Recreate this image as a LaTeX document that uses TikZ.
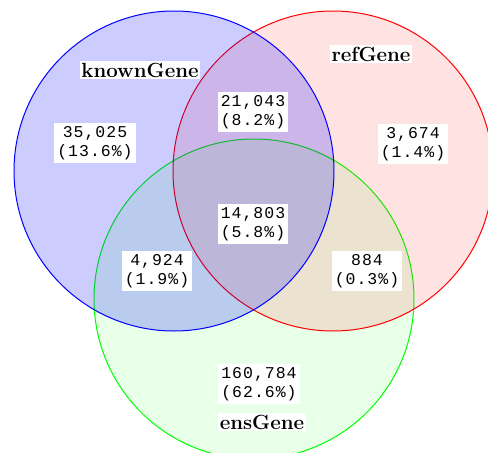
\documentclass[tikz,border=0pt]{standalone}
\usepackage{fontspec}
\newfontfamily\numfont[LetterSpace=6]{Liberation Mono}
\begin{document}
\begin{tikzpicture}[x=1pt,y=-1pt,
  setcirc/.style={circle, minimum size=320pt, inner sep=0pt, line width=1pt},
  numlbl/.style={fill=white, inner sep=3pt, align=center, font=\numfont\fontsize{16.5}{19}\selectfont},
  setlbl/.style={fill=white, inner sep=1.5pt, font=\bfseries\fontsize{20.5}{22}\selectfont}]
\useasboundingbox (0,0) rectangle (488,453);
\clip (0,0) rectangle (488,453);
\node[setcirc, draw=green, fill=green, fill opacity=0.09, draw opacity=1] (ens) at (254,299) {};
\node[setcirc, draw=red, fill=red, fill opacity=0.11, draw opacity=1] (ref) at (333,171) {};
\node[setcirc, draw=blue, fill=blue, fill opacity=0.2, draw opacity=1] (known) at (174,171) {};
\node[setlbl] (lknown) at (140,70) {knownGene};
\node[setlbl] (lref) at (371,54) {refGene};
\node[setlbl] (lens) at (262,422) {ensGene};
\node[numlbl] (k) at (95,143) {35,025\\(13.6\%)};
\node[numlbl] (kr) at (253,112) {21,043\\(8.2\%)};
\node[numlbl] (r) at (413,144) {3,674\\(1.4\%)};
\node[numlbl] (kre) at (253,224) {14,803\\(5.8\%)};
\node[numlbl] (ke) at (157,271) {4,924\\(1.9\%)};
\node[numlbl] (re) at (367,271) {884\\(0.3\%)};
\node[numlbl] (e) at (259,384) {160,784\\(62.6\%)};
\end{tikzpicture}
\end{document}
